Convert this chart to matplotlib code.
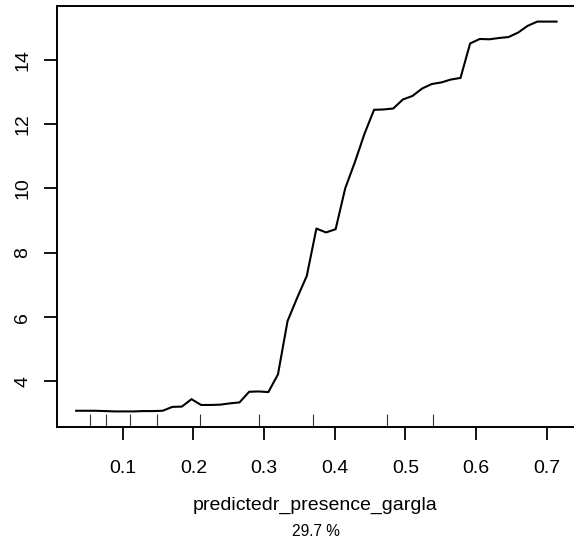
import matplotlib
matplotlib.use("Agg")
import matplotlib.pyplot as plt

plt.rcParams['font.family'] = ['Liberation Sans', 'DejaVu Sans']

# partial dependence grid
x = [0.034, 0.0476, 0.0612, 0.0748, 0.0884, 0.102, 0.1156, 0.1292, 0.1428, 0.1564,
     0.17, 0.1836, 0.1972, 0.2108, 0.2244, 0.238, 0.2516, 0.2652, 0.2788, 0.2924,
     0.306, 0.3196, 0.3332, 0.3468, 0.3604, 0.374, 0.3876, 0.4012, 0.4148, 0.4284,
     0.442, 0.4556, 0.4692, 0.4828, 0.4964, 0.51, 0.5236, 0.5372, 0.5508, 0.5644,
     0.578, 0.5916, 0.6052, 0.6188, 0.6324, 0.646, 0.6596, 0.6732, 0.6868, 0.7004,
     0.714]
y = [3.09, 3.09, 3.09, 3.08, 3.07, 3.07, 3.07, 3.08, 3.08, 3.09,
     3.21, 3.22, 3.45, 3.27, 3.27, 3.28, 3.32, 3.35, 3.68, 3.69,
     3.67, 4.22, 5.88, 6.60, 7.28, 8.75, 8.63, 8.73, 10.0, 10.81,
     11.69, 12.44, 12.45, 12.48, 12.76, 12.87, 13.10, 13.24, 13.29, 13.38,
     13.43, 14.50, 14.64, 14.63, 14.67, 14.70, 14.84, 15.05, 15.18, 15.18,
     15.18]

# deciles of the predictor (rug)
deciles = [0.0538, 0.0755, 0.1105, 0.1482, 0.2097, 0.2932, 0.3697, 0.4745, 0.5392]

xticks = [0.1, 0.2, 0.3, 0.4, 0.5, 0.6, 0.7]
yticks = [4, 6, 8, 10, 12, 14]
xlabel = "predictedr_presence_gargla"
importance = "29.7 %"

W, H = 574, 546
fig = plt.figure(figsize=(W / 100, H / 100), dpi=100)
left, right, bottom, top = 57, 575.8, 546 - 427, 546 - 6
ax = fig.add_axes([left / W, bottom / H, (right - left) / W, (top - bottom) / H])

ax.plot(x, y, color='black', lw=1.5)

xmin, xmax = min(x), max(x)
ymin, ymax = min(y), max(y)
dx, dy = 0.04 * (xmax - xmin), 0.04 * (ymax - ymin)
ax.set_xlim(xmin - dx, xmax + dx)
ax.set_ylim(ymin - dy, ymax + dy)

ylo, yhi = ax.get_ylim()
rug_h = 13 / (top - bottom) * (yhi - ylo)
ax.vlines(deciles, ylo, ylo + rug_h, color='#333333', lw=0.8)

ax.set_xticks(xticks)
ax.set_xticklabels([str(t) for t in xticks])
ax.set_yticks(yticks)
ax.set_yticklabels([str(t) for t in yticks], rotation=90, va='center')
ax.tick_params(direction='out', length=9.5, width=1.3, labelsize=14)
ax.tick_params(axis='x', pad=14.5)
ax.tick_params(axis='y', pad=9)
for s in ax.spines.values():
    s.set_linewidth(1.4)

fig.text((left + 574) / 2 / W, 1 - 505 / H, xlabel, ha='center', va='center', fontsize=14)
fig.text((left + 574) / 2 / W, 1 - 532 / H, importance, ha='center', va='center', fontsize=11.2)

fig.savefig("out.png", dpi=100)
